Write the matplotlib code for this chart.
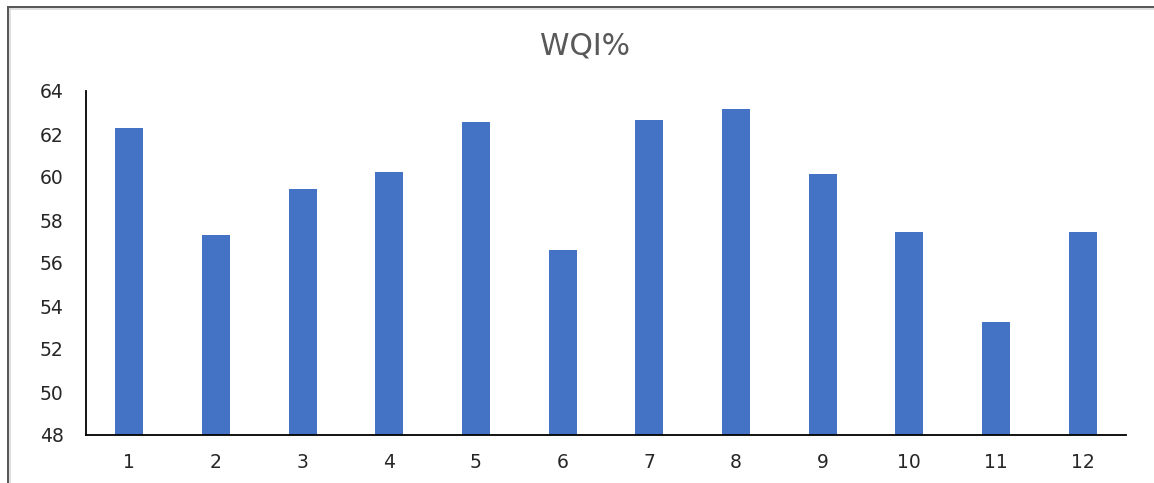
import matplotlib
matplotlib.use("Agg")
import matplotlib.pyplot as plt
from matplotlib.lines import Line2D

plt.rcParams["font.family"] = ["DejaVu Sans"]

# Monthly WQI values
months = [1, 2, 3, 4, 5, 6, 7, 8, 9, 10, 11, 12]
wqi = [62.3, 57.3, 59.45, 60.25, 62.55, 56.6, 62.65, 63.15, 60.15, 57.45, 53.25, 57.45]
yticks = [48, 50, 52, 54, 56, 58, 60, 62, 64]

W, H = 1154, 483
fig = plt.figure(figsize=(W / 100, H / 100), dpi=100)
ax = fig.add_axes([86 / W, 1 - 435 / H, 1040 / W, 344 / H])

ax.bar(months, wqi, width=0.32, color="#4472C4", bottom=0)
ax.set_xlim(0.5, 12.5)
ax.set_ylim(48, 64)
ax.set_yticks(yticks)
ax.set_xticks(months)

for s in ["top", "right"]:
    ax.spines[s].set_visible(False)
for s in ["left", "bottom"]:
    ax.spines[s].set_color("black")
    ax.spines[s].set_linewidth(1.3)

ax.tick_params(axis="both", length=0, labelsize=13.5, labelcolor="#262626")
ax.tick_params(axis="y", pad=16)
ax.tick_params(axis="x", pad=13)

fig.text(585 / W, 1 - 46 / H, "WQI%", ha="center", va="center",
         fontsize=21.5, color="#595959")

# frame around the chart area (top and left edges)
fig.add_artist(Line2D([8 / W, 1.0], [1 - 7 / H, 1 - 7 / H], color="#555555", lw=1.4))
fig.add_artist(Line2D([8 / W, 1.0], [1 - 9 / H, 1 - 9 / H], color="#d9d9d9", lw=1.2))
fig.add_artist(Line2D([8 / W, 8 / W], [0, 1 - 7 / H], color="#555555", lw=1.4))
fig.add_artist(Line2D([10 / W, 10 / W], [0, 1 - 9 / H], color="#d9d9d9", lw=1.2))

fig.savefig("out.png", dpi=100)
